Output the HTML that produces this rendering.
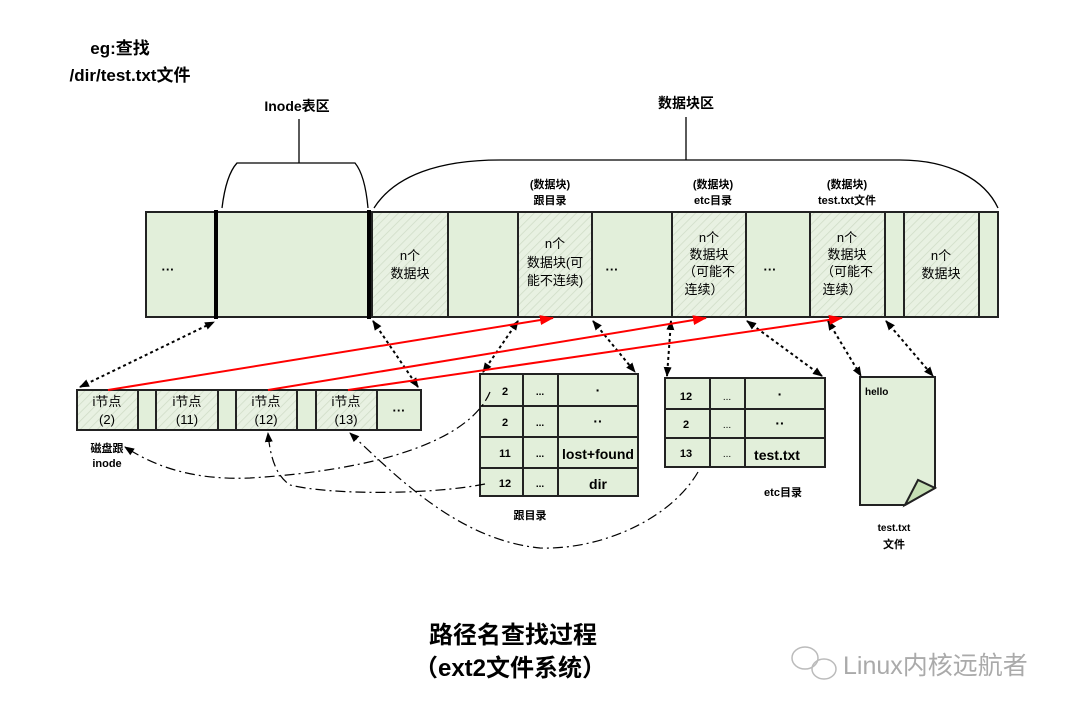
<!DOCTYPE html>
<html><head><meta charset="utf-8"><style>
body{margin:0;background:#fff}
svg{display:block}
text{font-family:"Liberation Sans","Noto Sans CJK SC",sans-serif;fill:#000}
.b{font-weight:bold}
</style></head><body>
<svg width="1080" height="712" viewBox="0 0 1080 712" xmlns="http://www.w3.org/2000/svg">
<defs>
<pattern id="h" width="6" height="6" patternUnits="userSpaceOnUse" patternTransform="rotate(45)">
<rect width="6" height="6" fill="#e8f1e2"/><line x1="0" y1="0" x2="0" y2="6" stroke="#cfdcc6" stroke-width="1.5"/>
</pattern>
<marker id="ar" markerWidth="10" markerHeight="10" refX="9" refY="5" orient="auto" markerUnits="userSpaceOnUse"><path d="M0,1 L10,5 L0,9 Z" fill="#000"/></marker>
<marker id="al" markerWidth="10" markerHeight="10" refX="1" refY="5" orient="auto" markerUnits="userSpaceOnUse"><path d="M10,1 L0,5 L10,9 Z" fill="#000"/></marker>
<marker id="rr" markerWidth="14" markerHeight="10" refX="13" refY="5" orient="auto" markerUnits="userSpaceOnUse"><path d="M0,0 L14,5 L0,10 Z" fill="#f00"/></marker>
</defs>

<text x="120" y="54" class="b" font-size="17" text-anchor="middle">eg:查找</text>
<text x="130" y="81" class="b" font-size="17" text-anchor="middle">/dir/test.txt文件</text>
<text x="297" y="111" class="b" font-size="14" text-anchor="middle">Inode表区</text>
<text x="686" y="108" class="b" font-size="14" text-anchor="middle">数据块区</text>

<g fill="none" stroke="#000" stroke-width="1.3">
<line x1="299" y1="119" x2="299" y2="163"/>
<path d="M222,208 Q226,175 237,163 L355,163 Q365,175 368,208"/>
<line x1="686" y1="117" x2="686" y2="160"/>
<path d="M374,208 C395,175 440,160 500,160 L900,160 C950,160 985,180 998,208"/>
</g>

<rect x="146" y="212" width="852" height="105" fill="#e2efda" stroke="#222" stroke-width="2"/>
<g fill="url(#h)" stroke="#222" stroke-width="2">
<rect x="372" y="212" width="76" height="105"/>
<rect x="518" y="212" width="74" height="105"/>
<rect x="672" y="212" width="74" height="105"/>
<rect x="810" y="212" width="75" height="105"/>
<rect x="904" y="212" width="75" height="105"/>
</g>
<g stroke="#000">
<line x1="216" y1="210" x2="216" y2="319" stroke-width="4"/>
<line x1="369" y1="210" x2="369" y2="319" stroke-width="4"/>
</g>
<g font-size="13" text-anchor="middle">
<text x="168" y="274" class="b">···</text>
<text x="612" y="274" class="b">···</text>
<text x="770" y="274" class="b">···</text>
<text x="410" y="260">n个</text><text x="410" y="278">数据块</text>
<text x="555" y="248">n个</text><text x="555" y="267">数据块(可</text><text x="555" y="285">能不连续)</text>
<text x="709" y="242">n个</text><text x="709" y="259">数据块</text><text x="709" y="276">（可能不</text><text x="704" y="294">连续）</text>
<text x="847" y="242">n个</text><text x="847" y="259">数据块</text><text x="847" y="276">（可能不</text><text x="842" y="294">连续）</text>
<text x="941" y="260">n个</text><text x="941" y="278">数据块</text>
</g>
<g font-size="11" class="b" text-anchor="middle">
<text x="550" y="188" class="b">(数据块)</text><text x="550" y="204" class="b">跟目录</text>
<text x="713" y="188" class="b">(数据块)</text><text x="713" y="204" class="b">etc目录</text>
<text x="847" y="188" class="b">(数据块)</text><text x="847" y="204" class="b">test.txt文件</text>
</g>

<rect x="77" y="390" width="344" height="40" fill="#e2efda" stroke="#222" stroke-width="2"/>
<g fill="url(#h)" stroke="#222" stroke-width="2">
<rect x="77" y="390" width="61" height="40"/>
<rect x="156" y="390" width="62" height="40"/>
<rect x="236" y="390" width="61" height="40"/>
<rect x="316" y="390" width="61" height="40"/>
</g>
<g font-size="13" text-anchor="middle">
<text x="107" y="406">i节点</text><text x="107" y="424">(2)</text>
<text x="187" y="406">i节点</text><text x="187" y="424">(11)</text>
<text x="266" y="406">i节点</text><text x="266" y="424">(12)</text>
<text x="346" y="406">i节点</text><text x="346" y="424">(13)</text>
<text x="399" y="415" class="b">···</text>
</g>
<text x="107" y="452" font-size="11" class="b" text-anchor="middle">磁盘跟</text>
<text x="107" y="467" font-size="11" class="b" text-anchor="middle">inode</text>

<rect x="480" y="374" width="158" height="122" fill="#e2efda" stroke="#222" stroke-width="2"/>
<g stroke="#222" stroke-width="2">
<line x1="480" y1="406" x2="638" y2="406"/><line x1="480" y1="437" x2="638" y2="437"/><line x1="480" y1="468" x2="638" y2="468"/>
<line x1="523" y1="374" x2="523" y2="496"/><line x1="558" y1="374" x2="558" y2="496"/>
</g>
<g text-anchor="middle" class="b">
<text x="505" y="395" font-size="11" class="b">2</text><text x="505" y="426" font-size="11" class="b">2</text>
<text x="505" y="457" font-size="11" class="b">11</text><text x="505" y="487" font-size="11" class="b">12</text>
<text x="540" y="395" font-size="10">...</text><text x="540" y="426" font-size="10">...</text><text x="540" y="457" font-size="10">...</text><text x="540" y="487" font-size="10">...</text>
<text x="598" y="395" font-size="14" class="b">·</text><text x="598" y="426" font-size="14" class="b">··</text>
<text x="598" y="459" font-size="14" class="b">lost+found</text><text x="598" y="489" font-size="14" class="b">dir</text>
</g>
<text x="530" y="519" font-size="11" class="b" text-anchor="middle">跟目录</text>

<rect x="665" y="378" width="160" height="89" fill="#e2efda" stroke="#222" stroke-width="2"/>
<g stroke="#222" stroke-width="2">
<line x1="665" y1="409" x2="825" y2="409"/><line x1="665" y1="438" x2="825" y2="438"/>
<line x1="710" y1="378" x2="710" y2="467"/><line x1="745" y1="378" x2="745" y2="467"/>
</g>
<g text-anchor="middle">
<text x="686" y="400" font-size="11" class="b">12</text><text x="686" y="428" font-size="11" class="b">2</text><text x="686" y="457" font-size="11" class="b">13</text>
<text x="727" y="400" font-size="10">...</text><text x="727" y="428" font-size="10">...</text><text x="727" y="457" font-size="10">...</text>
<text x="780" y="399" font-size="14" class="b">·</text><text x="780" y="428" font-size="14" class="b">··</text><text x="777" y="460" font-size="14" class="b">test.txt</text>
</g>
<text x="783" y="496" font-size="11" class="b" text-anchor="middle">etc目录</text>

<path d="M860,377 L935,377 L935,488 L905,505 L860,505 Z" fill="#e2efda" stroke="#222" stroke-width="2"/>
<path d="M905,505 L918,480 L935,488 Z" fill="#c6e0b4" stroke="#222" stroke-width="2"/>
<text x="865" y="395" font-size="10" class="b">hello</text>
<text x="894" y="531" font-size="10" class="b" text-anchor="middle">test.txt</text>
<text x="894" y="548" font-size="11" class="b" text-anchor="middle">文件</text>

<g stroke="#000" stroke-width="2" stroke-dasharray="3,3" fill="none" marker-start="url(#al)" marker-end="url(#ar)">
<line x1="80" y1="387" x2="214" y2="322"/>
<line x1="373" y1="321" x2="418" y2="387"/>
<line x1="518" y1="321" x2="483" y2="372"/>
<line x1="593" y1="321" x2="635" y2="372"/>
<line x1="671" y1="321" x2="667" y2="376"/>
<line x1="747" y1="321" x2="822" y2="376"/>
<line x1="828" y1="321" x2="861" y2="376"/>
<line x1="886" y1="321" x2="933" y2="376"/>
</g>

<g stroke="#f00" stroke-width="2" marker-end="url(#rr)">
<line x1="108" y1="390" x2="553" y2="318"/>
<line x1="268" y1="390" x2="706" y2="318"/>
<line x1="348" y1="390" x2="842" y2="318"/>
</g>

<g stroke="#000" stroke-width="1.2" fill="none" stroke-dasharray="10,4,2,4">
<path d="M490,392 C470,440 380,470 250,478 C200,480 160,470 125,447" marker-end="url(#ar)"/>
<path d="M485,484 C430,495 330,495 290,485 C275,475 270,455 268,433" marker-end="url(#ar)"/>
<path d="M698,472 C670,520 600,550 540,548 C460,540 400,480 350,433" marker-end="url(#ar)"/>
</g>

<text x="513" y="643" font-size="24" class="b" text-anchor="middle">路径名查找过程</text>
<text x="510" y="676" font-size="24" class="b" text-anchor="middle">（ext2文件系统）</text>

<g fill="none" stroke="#bbb" stroke-width="1.5">
<ellipse cx="805" cy="658" rx="13" ry="11"/>
<ellipse cx="824" cy="669" rx="12" ry="10"/>
</g>
<text x="843" y="674" font-size="25" style="fill:#aaa">Linux内核远航者</text>
</svg>
</body></html>
